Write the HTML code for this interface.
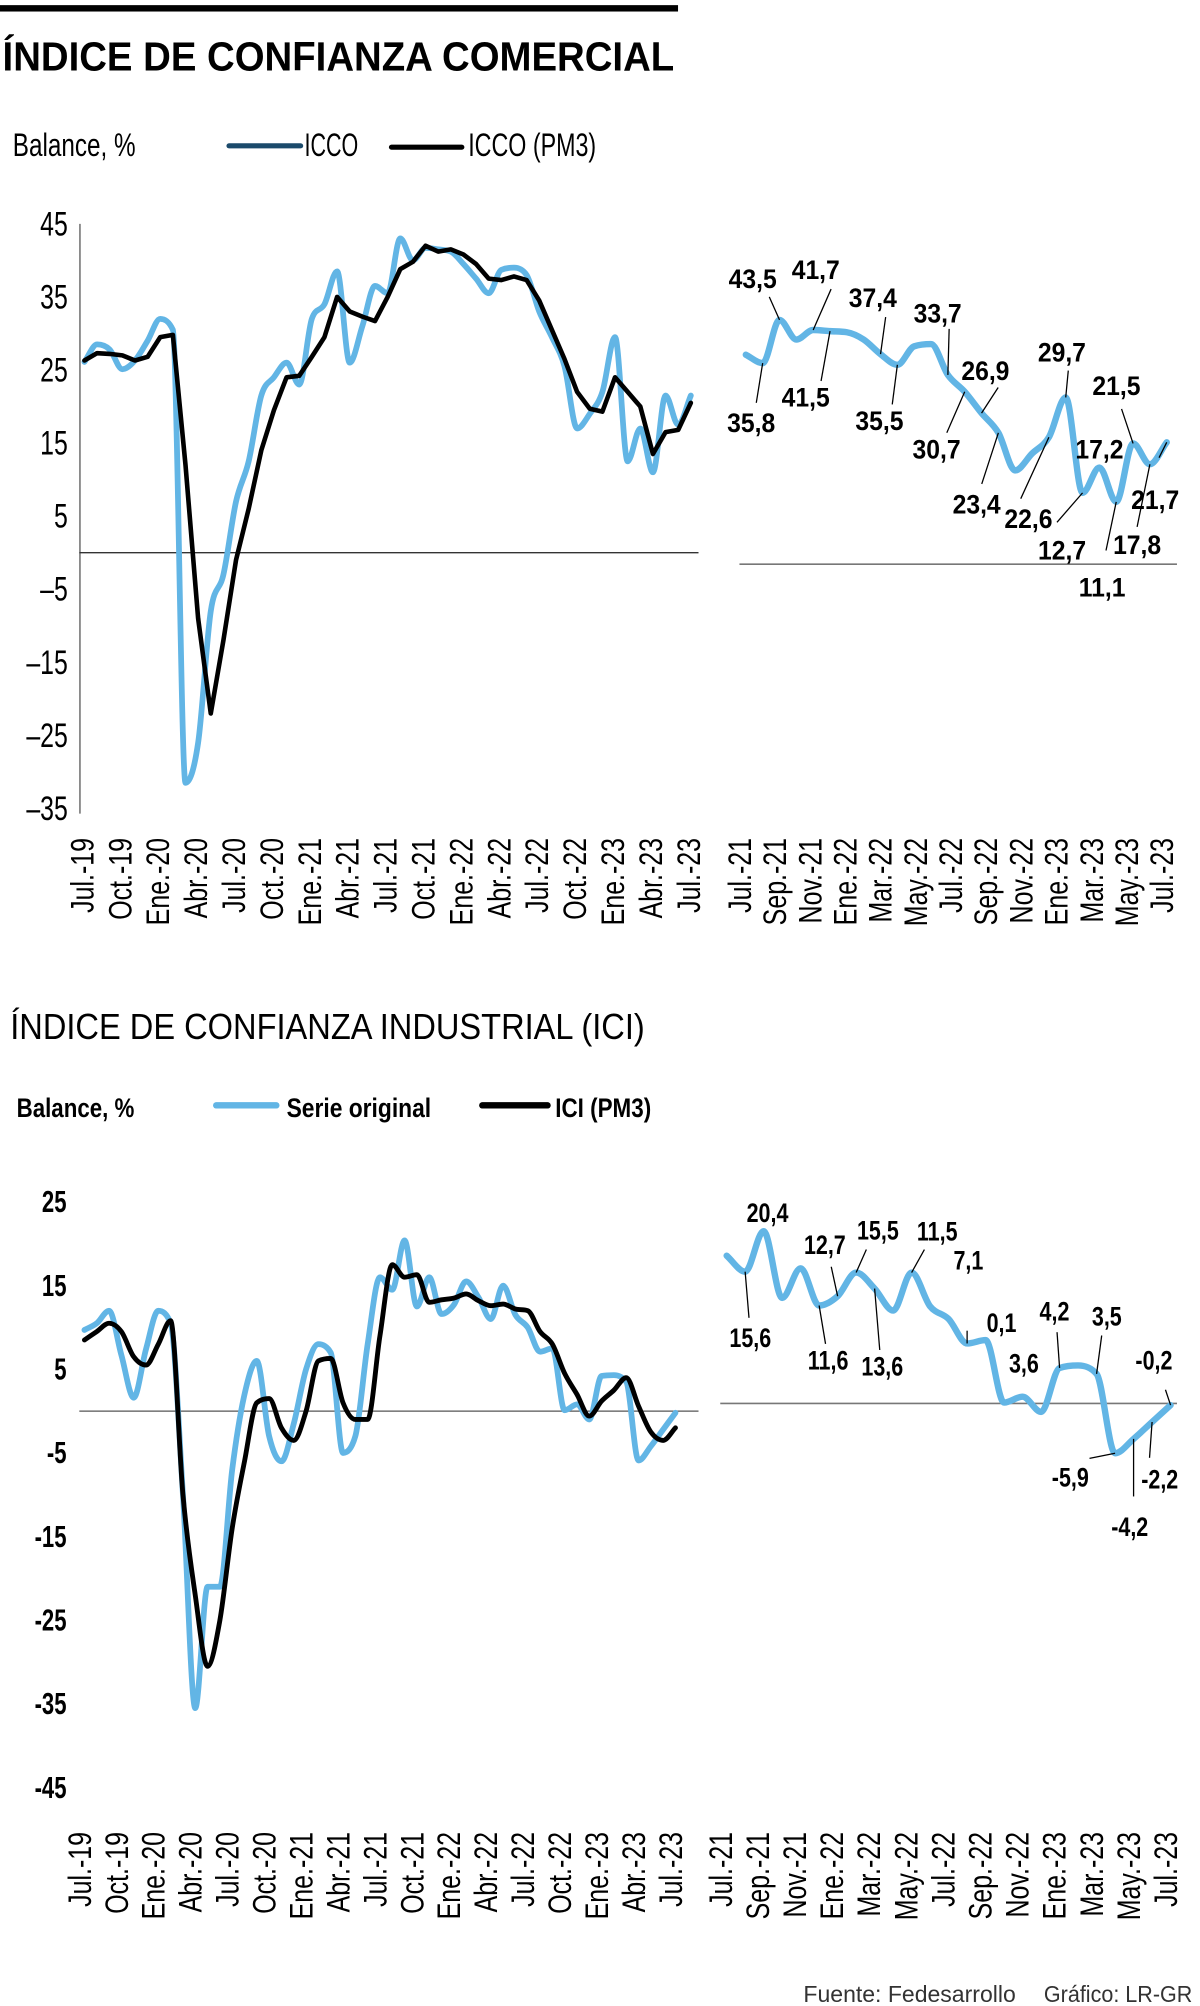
<!DOCTYPE html>
<html><head><meta charset="utf-8"><title>Índice de confianza</title>
<style>
html,body{margin:0;padding:0;background:#fff;}
svg{display:block;font-family:"Liberation Sans",sans-serif;}
</style></head>
<body>
<svg id="root" width="1200" height="2006" viewBox="0 0 938 1568" xmlns="http://www.w3.org/2000/svg">
<rect x="0" y="4" width="530" height="5" fill="#000"/>
<text x="2" y="55" font-size="32" font-weight="bold" textLength="525" lengthAdjust="spacingAndGlyphs">ÍNDICE DE CONFIANZA COMERCIAL</text>
<text x="10" y="122" font-size="25" textLength="96" lengthAdjust="spacingAndGlyphs">Balance, %</text>
<line x1="179" y1="114" x2="235" y2="114" stroke="#1b4a6b" stroke-width="4" stroke-linecap="round"/>
<text x="238" y="122" font-size="25" textLength="42" lengthAdjust="spacingAndGlyphs">ICCO</text>
<line x1="306" y1="115" x2="361" y2="115" stroke="#000" stroke-width="4" stroke-linecap="round"/>
<text x="366" y="122" font-size="25" textLength="100" lengthAdjust="spacingAndGlyphs">ICCO (PM3)</text>

<text x="8" y="812" font-size="28" textLength="496" lengthAdjust="spacingAndGlyphs">ÍNDICE DE CONFIANZA INDUSTRIAL (ICI)</text>
<text x="13" y="873" font-size="21" font-weight="bold" textLength="92" lengthAdjust="spacingAndGlyphs">Balance, %</text>
<line x1="169" y1="864" x2="216" y2="864" stroke="#62b5e5" stroke-width="5" stroke-linecap="round"/>
<text x="224" y="873" font-size="21" font-weight="bold" textLength="113" lengthAdjust="spacingAndGlyphs">Serie original</text>
<line x1="377" y1="864" x2="428" y2="864" stroke="#000" stroke-width="5" stroke-linecap="round"/>
<text x="434" y="873" font-size="21" font-weight="bold" textLength="75" lengthAdjust="spacingAndGlyphs">ICI (PM3)</text>

<text x="628" y="1565" font-size="18" fill="#333" textLength="166" lengthAdjust="spacingAndGlyphs">Fuente: Fedesarrollo</text>
<text x="816" y="1565" font-size="18" fill="#333" textLength="116" lengthAdjust="spacingAndGlyphs">Gráfico: LR-GR</text>
</svg>
<script>
// ---------- DATA ----------
const iccoTicks = [45, 35, 25, 15, 5, -5, -15, -25, -35];
const iciTicks = [25, 15, 5, -5, -15, -25, -35, -45];
const longMonthLabels = ["Jul.-19","Oct.-19","Ene.-20","Abr.-20","Jul.-20","Oct.-20","Ene.-21","Abr.-21","Jul.-21","Oct.-21","Ene.-22","Abr.-22","Jul.-22","Oct.-22","Ene.-23","Abr.-23","Jul.-23"];
const shortMonthLabels = ["Jul.-21","Sep.-21","Nov.-21","Ene.-22","Mar.-22","May.-22","Jul.-22","Sep.-22","Nov.-22","Ene.-23","Mar.-23","May.-23","Jul.-23"];
const iccoSeries = [26.1,28.5,27.8,25.1,26.3,29.0,32.0,30.5,-31.5,-26,-8,-3,7,12.5,21.5,24,26,23,32,34,38.5,26,31,36.5,35.5,43,40,41.7,41.5,41.2,39.5,37.5,35.5,38.7,39,38,33,29.5,25.5,17,19,22,29.5,12.5,17,11,21.5,17.5,21.5];
const iccoPm3 = [26.3,27.3,27.2,27,26.3,26.8,29.5,29.8,12,-9,-22,-12,-1,6,14,19.5,24,24.2,26.8,29.5,35,33,32.3,31.7,35,38.8,39.8,42,41.2,41.5,40.8,39.5,37.5,37.3,37.8,37.3,34.5,30.5,26.5,22,19.7,19.3,24,22,20,13.5,16.5,16.8,20.5];
const iccoRecent = [37.3,35.8,43.5,40,41.7,41.5,41.3,40,37.4,35.5,38.8,39.2,33.7,30.7,26.9,23.4,16.7,19.7,22.6,29.7,12.7,17.2,11.1,21.5,17.8,21.7];
const iccoRecentLabels = [[1,"35,8",-9,54,-5,31],[2,"43,5",-21,-25,-8,-18],[4,"41,7",2,-40,14,-32],[5,"41,5",-19,59,-7,39],[8,"37,4",-6,-37,4,-29],[9,"35,5",-14,51,-4,31],[12,"33,7",-8,-41,1,-36],[13,"30,7",-22,52,-14,32],[14,"26,9",3,-26,13,-20],[15,"23,4",-17,63,-13,40],[18,"22,6",-16,71,-22,48],[19,"29,7",-3,-28,2,-21],[20,"12,7",-16,52,-20,23],[21,"17,2",0,-7,0,0],[22,"11,1",-11,74,-8,38],[23,"21,5",-13,-38,-9,-27],[24,"17,8",-10,70,-10,49],[25,"21,7",-9,52,-6,12]];
const iciSeries = [9.7,10.5,12,6.7,1.6,7.4,12,10.5,-10,-35.5,-21,-21,-7,2,6,-3,-6,-1.5,5,8,7,-5,-3,8,16,14.5,20.4,12.5,16,11.6,12.7,15.5,13.6,11,15,11.5,10,7.1,7.5,0.1,0.8,-1,4.2,4.3,3.5,-5.9,-4.2,-2.2,-0.2];
const iciPm3 = [8.5,9.5,10.5,9.5,6.5,5.5,8,10.8,-10,-22,-30.5,-25,-14,-6,1,1.5,-2,-3.5,0,6,6.3,1,-1,-1,9,17.5,16,16.3,13,13.3,13.5,14,13.2,12.6,12.8,12.2,12,9.5,8,4.5,2,-0.6,1.2,2.5,4,0.6,-2.5,-3.5,-2];
const iciRecent = [17.5,15.6,20.4,12.5,16,11.6,12.7,15.5,13.6,11,15.5,11.5,10,7.1,7.5,0.1,0.8,-1,4.2,4.5,3.5,-5.9,-4.2,-2.2,-0.2];
const iciRecentLabels = [[1,"15,6",4,59,3,36],[2,"20,4",3,-7,0,0],[5,"11,6",7,50,5,30],[6,"12,7",-10,-33,-5,-23],[7,"15,5",17,-26,8,-18],[8,"13,6",6,68,4,48],[10,"11,5",20,-25,10,-18],[13,"7,1",1,-58,0,-10],[15,"0,1",-2,-55,0,0],[16,"3,6",1,-19,0,0],[18,"4,2",-4,-37,-2,-28],[20,"3,5",8,-38,4,-30],[21,"-5,9",-35,26,-20,4],[22,"-4,2",-3,76,0,45],[23,"-2,2",6,52,-2,28],[24,"-0,2",-13,-28,-4,-12]];

// ---------- HELPERS ----------
const NS = "http://www.w3.org/2000/svg";
const root = document.getElementById("root");
function mk(tag, attrs, name) {
  const el = document.createElementNS(NS, tag);
  for (const k in attrs) el.setAttribute(k, attrs[k]);
  
  
  root.appendChild(el);
  return el;
}
function txt(x, y, s, size, sx, opts, name) {
  const el = mk("text", Object.assign({x: 0, y: 0, "font-size": size, transform: `translate(${x},${y}) ${opts.rot ? "rotate(-90) " : ""}scale(${sx},1)`}, opts.attrs || {}), name);
  el.textContent = s;
  return el;
}
// Monotone-ish smoothing: tangent limited to avoid overshoot
function smoothPath(pts) {
  const n = pts.length;
  const m = [];
  for (let i = 0; i < n; i++) {
    const a = pts[i - 1] || pts[i], b = pts[i + 1] || pts[i];
    let s = (b[1] - a[1]) / ((b[0] - a[0]) || 1);
    if (i > 0 && i < n - 1) {
      const d1 = pts[i][1] - a[1], d2 = b[1] - pts[i][1];
      if (d1 * d2 <= 0) s = 0;
      else {
        const s1 = d1 / (pts[i][0] - a[0]), s2 = d2 / (b[0] - pts[i][0]);
        const lim = Math.min(Math.abs(s1), Math.abs(s2)) * 2.5;
        if (Math.abs(s) > lim) s = Math.sign(s) * lim;
      }
    }
    m.push(s);
  }
  let d = `M${pts[0][0]},${pts[0][1]}`;
  for (let i = 0; i < n - 1; i++) {
    const p1 = pts[i], p2 = pts[i + 1], h = (p2[0] - p1[0]) / 3;
    d += ` C${p1[0] + h},${p1[1] + m[i] * h} ${p2[0] - h},${p2[1] - m[i + 1] * h} ${p2[0]},${p2[1]}`;
  }
  return d;
}
function linPath(pts) { return "M" + pts.map(p => p[0] + "," + p[1]).join(" L"); }

// ---------- CHART 1: ICCO long ----------
(function () {
  const x0 = 66, x1 = 540, n = iccoSeries.length;
  const X = i => x0 + (x1 - x0) * i / (n - 1);
  const Y = v => 432 - v * 5.7125;
  mk("line", {x1: 62.5, y1: 175, x2: 62.5, y2: 636, stroke: "#555", "stroke-width": 1}, "y-axis-line-commercial");
  mk("line", {x1: 62, y1: Y(0), x2: 546, y2: Y(0), stroke: "#333", "stroke-width": 1}, "zero-line-commercial");
  iccoTicks.forEach(t => {
    txt(53, Y(t) + 9, String(t).replace("-", "–"), 27, 0.72, {attrs: {"text-anchor": "end"}}, "y-tick-label-commercial");
  });
  longMonthLabels.forEach((l, k) => {
    txt(X(k * 3) + 7, 655, l, 25, 0.78, {rot: true, attrs: {"text-anchor": "end"}}, "x-tick-label-commercial");
  });
  mk("path", {d: smoothPath(iccoSeries.map((v, i) => [X(i), Y(v)])), fill: "none", stroke: "#62b5e5", "stroke-width": 4.5, "stroke-linejoin": "round", "stroke-linecap": "round"}, "line-icco");
  mk("path", {d: linPath(iccoPm3.map((v, i) => [X(i), Y(v)])), fill: "none", stroke: "#000", "stroke-width": 3.6, "stroke-linejoin": "round", "stroke-linecap": "round"}, "line-icco-pm3");
})();

// ---------- CHART 2: ICCO recent ----------
(function () {
  const x0 = 583, x1 = 912, n = iccoRecent.length;
  const X = i => x0 + (x1 - x0) * i / (n - 1);
  const Y = v => 441 - v * 4.39;
  mk("line", {x1: 578, y1: 441, x2: 920, y2: 441, stroke: "#777", "stroke-width": 1.2}, "zero-line-commercial-recent");
  shortMonthLabels.forEach((l, k) => {
    const xx = 580 + (910 - 580) * k / (shortMonthLabels.length - 1);
    txt(xx + 7, 655, l, 25, 0.78, {rot: true, attrs: {"text-anchor": "end"}}, "x-tick-label-commercial-recent");
  });
  mk("path", {d: smoothPath(iccoRecent.map((v, i) => [X(i), Y(v)])), fill: "none", stroke: "#62b5e5", "stroke-width": 5, "stroke-linejoin": "round", "stroke-linecap": "round"}, "line-icco-recent");
  iccoRecentLabels.forEach(([i, s, tx, ty, lx, ly]) => {
    const px = X(i), py = Y(iccoRecent[i]);
    if (lx || ly) mk("line", {x1: px, y1: py, x2: px + lx, y2: py + ly, stroke: "#000", "stroke-width": 1}, "leader-line");
    txt(px + tx, py + ty, s, 21, 0.92, {attrs: {"text-anchor": "middle", "font-weight": "bold"}}, "data-label-icco");
  });
})();

// ---------- CHART 3: ICI long ----------
(function () {
  const x0 = 66, x1 = 528, n = iciSeries.length;
  const X = i => x0 + (x1 - x0) * i / (n - 1);
  const Y = v => 1103 - v * 6.54;
  mk("line", {x1: 62, y1: Y(0), x2: 546, y2: Y(0), stroke: "#555", "stroke-width": 1}, "zero-line-industrial");
  iciTicks.forEach(t => {
    txt(52, Y(t) + 8, String(t), 24, 0.72, {attrs: {"text-anchor": "end", "font-weight": "bold"}}, "y-tick-label-industrial");
  });
  longMonthLabels.forEach((l, k) => {
    txt(X(k * 3) + 5, 1432, l, 25, 0.78, {rot: true, attrs: {"text-anchor": "end"}}, "x-tick-label-industrial");
  });
  mk("path", {d: smoothPath(iciSeries.map((v, i) => [X(i), Y(v)])), fill: "none", stroke: "#62b5e5", "stroke-width": 4.5, "stroke-linejoin": "round", "stroke-linecap": "round"}, "line-ici-original");
  mk("path", {d: smoothPath(iciPm3.map((v, i) => [X(i), Y(v)])), fill: "none", stroke: "#000", "stroke-width": 3.8, "stroke-linejoin": "round", "stroke-linecap": "round"}, "line-ici-pm3");
})();

// ---------- CHART 4: ICI recent ----------
(function () {
  const x0 = 568, x1 = 915, n = iciRecent.length;
  const X = i => x0 + (x1 - x0) * i / (n - 1);
  const Y = v => 1097 - v * 6.6;
  mk("line", {x1: 563, y1: 1097, x2: 920, y2: 1097, stroke: "#777", "stroke-width": 1.2}, "zero-line-industrial-recent");
  shortMonthLabels.forEach((l, k) => {
    const xx = 565 + (913 - 565) * k / (shortMonthLabels.length - 1);
    txt(xx + 7, 1432, l, 25, 0.78, {rot: true, attrs: {"text-anchor": "end"}}, "x-tick-label-industrial-recent");
  });
  mk("path", {d: smoothPath(iciRecent.map((v, i) => [X(i), Y(v)])), fill: "none", stroke: "#62b5e5", "stroke-width": 5, "stroke-linejoin": "round", "stroke-linecap": "round"}, "line-ici-recent");
  iciRecentLabels.forEach(([i, s, tx, ty, lx, ly]) => {
    const px = X(i), py = Y(iciRecent[i]);
    if (lx || ly) mk("line", {x1: px, y1: py, x2: px + lx, y2: py + ly, stroke: "#000", "stroke-width": 1}, "leader-line");
    txt(px + tx, py + ty, s, 21, 0.8, {attrs: {"text-anchor": "middle", "font-weight": "bold"}}, "data-label-ici");
  });
})();
</script>
</body></html>
